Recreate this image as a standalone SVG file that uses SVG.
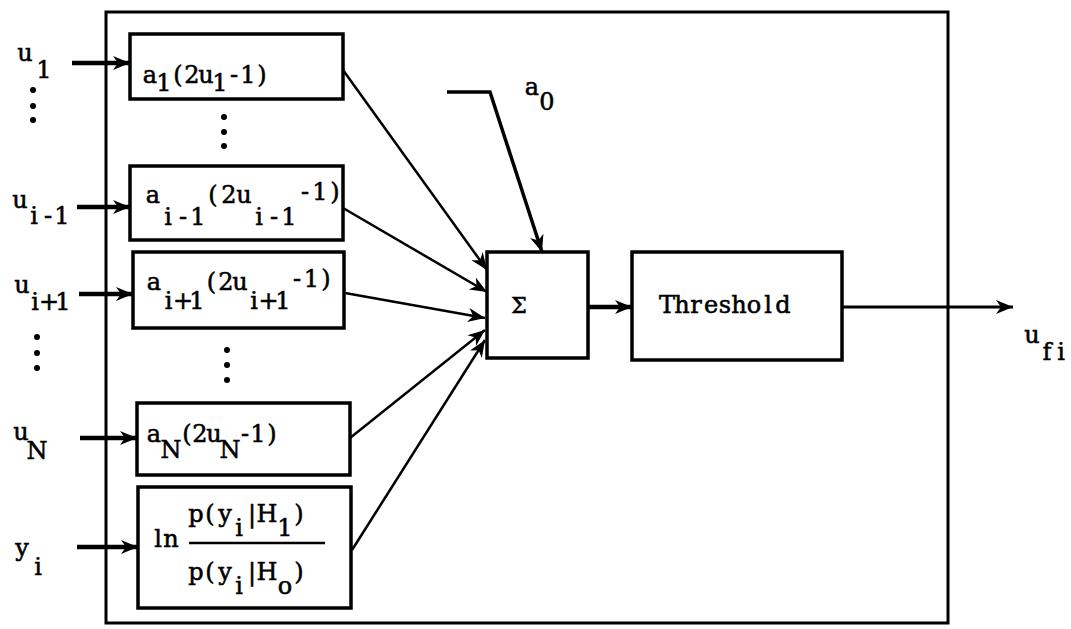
<svg xmlns="http://www.w3.org/2000/svg" width="1071" height="629" viewBox="0 0 1071 629">
<style>
.t{font-family:"DejaVu Serif","Liberation Serif",serif;font-size:24px;fill:#000;stroke:#000;stroke-width:0.55;text-anchor:middle;font-variant-ligatures:none}
.box{fill:none;stroke:#000;stroke-width:3.5}
.thin{fill:none;stroke:#000;stroke-width:2.5}
.thick{fill:none;stroke:#000;stroke-width:4.5}
</style>
<defs>
<marker id="ah" markerUnits="userSpaceOnUse" viewBox="-20 -10 22 20" refX="0" refY="0" markerWidth="22" markerHeight="20" orient="auto">
<path d="M0,0 L-17,-7 L-12,0 L-17,7 Z" fill="#000"/>
</marker>
</defs>
<rect width="1071" height="629" fill="#fff"/>
<g id="outer"><rect class="box" x="106" y="12" width="842" height="611" style="stroke-width:3"/></g>

<g id="in-u1"><text class="t"><tspan x="25" y="61">u</tspan><tspan x="44" y="78">1</tspan></text>
<circle cx="33" cy="90" r="3"/><circle cx="33" cy="106" r="3"/><circle cx="33" cy="120" r="3"/></g>
<g id="in-ui-1"><text class="t"><tspan x="20" y="208">u</tspan><tspan x="34 48 62" y="224">i-1</tspan></text></g>
<g id="in-ui+1"><text class="t"><tspan x="22" y="293">u</tspan><tspan x="35 49 63" y="310">i+1</tspan></text>
<circle cx="37" cy="337" r="3"/><circle cx="37" cy="353" r="3"/><circle cx="37" cy="368" r="3"/></g>
<g id="in-uN"><text class="t"><tspan x="21" y="440">u</tspan><tspan x="37" y="459">N</tspan></text></g>
<g id="in-yi"><text class="t"><tspan x="22" y="556">y</tspan><tspan x="38" y="575">i</tspan></text></g>

<g id="box1"><rect class="box" x="130" y="34" width="213" height="65"/>
<text class="t"><tspan x="150" y="83">a</tspan><tspan x="164" y="91">1</tspan><tspan x="178 192 206" y="83">(2u</tspan><tspan x="220" y="91">1</tspan><tspan x="234 248 262" y="83">-1)</tspan></text>
<circle cx="224" cy="117" r="3"/><circle cx="224" cy="132" r="3"/><circle cx="224" cy="146" r="3"/></g>
<g id="box-i-1"><rect class="box" x="130" y="166" width="213" height="74"/>
<text class="t"><tspan x="153" y="203">a</tspan><tspan x="168 183 198" y="225">i-1</tspan><tspan x="213 229 244" y="203">(2u</tspan><tspan x="259 274 289" y="225">i-1</tspan><tspan x="305 320 335" y="200">-1)</tspan></text></g>
<g id="box-i+1"><rect class="box" x="133" y="252" width="211" height="76"/>
<text class="t"><tspan x="154" y="290">a</tspan><tspan x="168.5 183 197" y="309">i+1</tspan><tspan x="211.5 226 240" y="290">(2u</tspan><tspan x="254 268.5 283" y="309">i+1</tspan><tspan x="297 311.5 326" y="287">-1)</tspan></text>
<circle cx="227" cy="350" r="3"/><circle cx="227" cy="365" r="3"/><circle cx="227" cy="380" r="3"/></g>
<g id="box-N"><rect class="box" x="137" y="403" width="213" height="72"/>
<text class="t"><tspan x="154" y="442">a</tspan><tspan x="171" y="458">N</tspan><tspan x="187 200 214" y="442">(2u</tspan><tspan x="230" y="458">N</tspan><tspan x="245 258 272" y="442">-1)</tspan></text></g>
<g id="box-ln"><rect class="box" x="138" y="487" width="213" height="121"/>
<text class="t"><tspan x="158 171" y="547">ln</tspan></text>
<text class="t"><tspan x="196 210 225" y="522">p(y</tspan><tspan x="239" y="536">i</tspan><tspan x="252 267" y="522">|H</tspan><tspan x="285" y="536">1</tspan><tspan x="299" y="522">)</tspan></text>
<line x1="189" y1="543" x2="325" y2="543" stroke="#000" stroke-width="2.5"/>
<text class="t"><tspan x="196 210 225" y="580">p(y</tspan><tspan x="239" y="594">i</tspan><tspan x="252 267" y="580">|H</tspan><tspan x="285" y="594">o</tspan><tspan x="299" y="580">)</tspan></text></g>

<g id="sum"><rect class="box" x="487" y="252" width="101" height="106"/>
<text class="t" x="519" y="313" style="font-size:22px">Σ</text></g>
<g id="a0"><text class="t"><tspan x="532" y="95">a</tspan><tspan x="547" y="110">0</tspan></text></g>
<g id="threshold"><rect class="box" x="632" y="252" width="210" height="108"/>
<text class="t"><tspan x="667 682 696 711 725 739 754 768 783" y="313">Threshold</tspan></text></g>
<g id="out-label"><text class="t"><tspan x="1032" y="343">u</tspan><tspan x="1047 1061" y="360">fi</tspan></text></g>

<g id="connectors">
<line class="thick" x1="72" y1="63" x2="130" y2="63" marker-end="url(#ah)"/>
<line class="thick" x1="77" y1="207" x2="130" y2="207" marker-end="url(#ah)"/>
<line class="thick" x1="79" y1="294" x2="133" y2="294" marker-end="url(#ah)"/>
<line class="thick" x1="80" y1="438" x2="137" y2="438" marker-end="url(#ah)"/>
<line class="thick" x1="77" y1="547" x2="138" y2="547" marker-end="url(#ah)"/>
<line class="thin" x1="343" y1="70" x2="487" y2="270" marker-end="url(#ah)"/>
<line class="thin" x1="343" y1="208" x2="487" y2="292" marker-end="url(#ah)"/>
<line class="thin" x1="345" y1="293" x2="485" y2="318" marker-end="url(#ah)"/>
<line class="thin" x1="350" y1="438" x2="485" y2="330" marker-end="url(#ah)"/>
<line class="thin" x1="352" y1="550" x2="485" y2="340" marker-end="url(#ah)"/>
<polyline class="thin" points="447,92 490,92 542,252" style="stroke-width:3.5" marker-end="url(#ah)"/>
<line class="thick" x1="588" y1="307" x2="632" y2="307" marker-end="url(#ah)"/>
<line class="thin" x1="842" y1="307" x2="1013" y2="307" style="stroke-width:3" marker-end="url(#ah)"/>
</g>
</svg>
